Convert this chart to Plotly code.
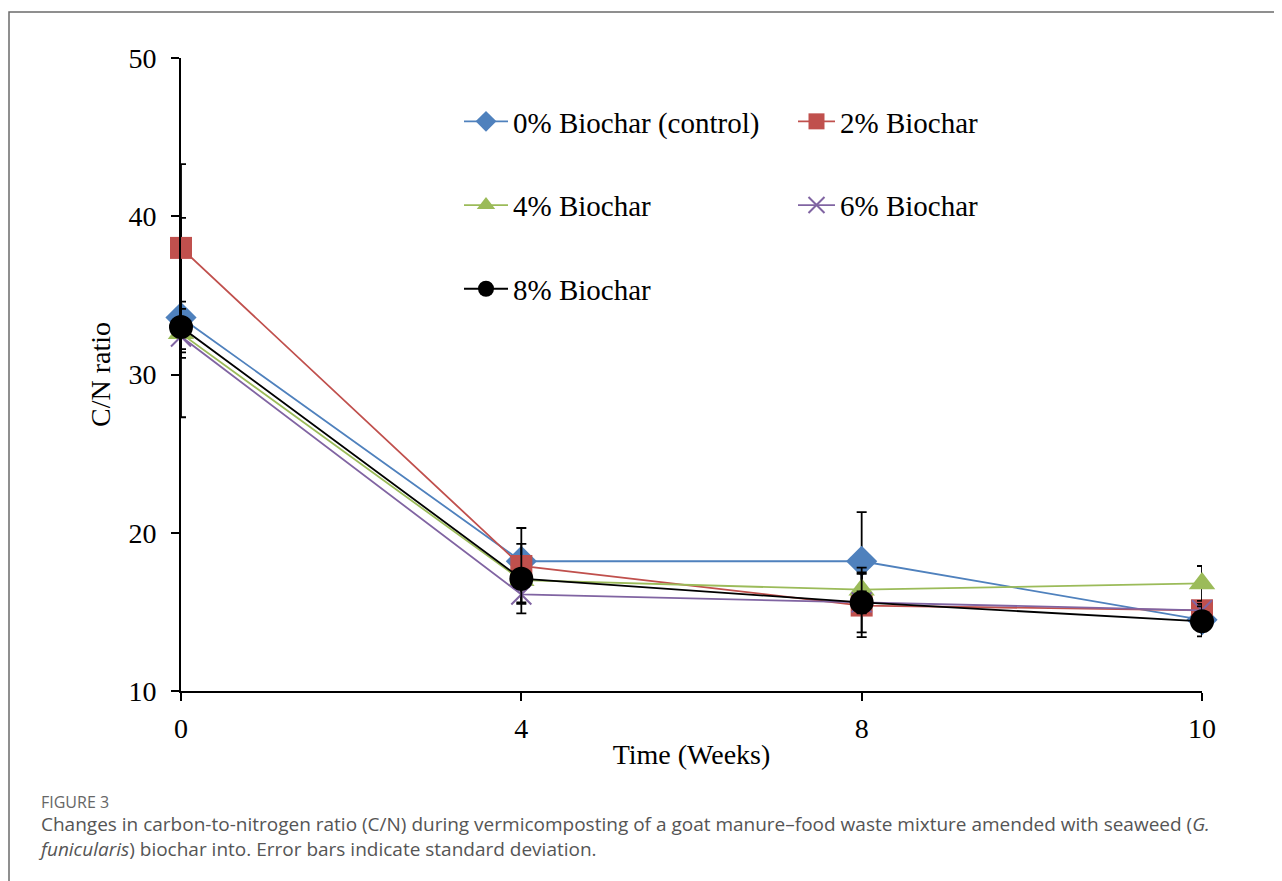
import plotly.graph_objects as go

weeks = ["0", "4", "8", "10"]
series_names = ["0% Biochar (control)", "2% Biochar", "4% Biochar", "6% Biochar", "8% Biochar"]
cn_0 = [33.6, 18.2, 18.2, 14.5]
cn_2 = [38.0, 17.9, 15.4, 15.1]
cn_4 = [32.6, 17.0, 16.4, 16.8]
cn_6 = [32.4, 16.1, 15.6, 15.1]
cn_8 = [33.0, 17.1, 15.6, 14.4]
sd_0 = [6.3, 0.5, 3.1, 0.4]
sd_2 = [5.3, 2.4, 2.0, 0.5]
sd_4 = [1.55, 0.6, 1.4, 1.1]
sd_6 = [0.8, 0.5, 0.7, 0.4]
sd_8 = [1.6, 2.2, 1.9, 0.95]

values = [cn_0, cn_2, cn_4, cn_6, cn_8]
errors = [sd_0, sd_2, sd_4, sd_6, sd_8]
colors = ["#4F81BD", "#C0504D", "#9BBB59", "#8064A2", "#000000"]
symbols = ["diamond", "square", "triangle-up", "x-thin-open", "circle"]
sizes = [24, 22, 23, 20, 24]
legends = ["legend", "legend2", "legend", "legend2", "legend"]

SERIF = "Liberation Serif"

fig = go.Figure()
for i in range(5):
    marker = dict(symbol=symbols[i], size=sizes[i], color=colors[i])
    if symbols[i] == "x-thin-open":
        marker["line"] = dict(color=colors[i], width=2)
    fig.add_trace(go.Scatter(
        x=weeks, y=values[i], name=series_names[i],
        mode="lines+markers",
        line=dict(color=colors[i], width=1.8),
        marker=marker,
        cliponaxis=False,
        error_y=dict(type="data", array=errors[i], visible=True,
                     color="black", thickness=1.8, width=5),
        legend=legends[i], legendgroup=str(i),
    ))

# page pixel -> paper coordinates (plot area spans 181..1202 x 58..691 on the page)
W = 1202 - 181
H = 691 - 58
def px_x(p):
    return (p - 181) / W
def px_y(p):
    return (691 - p) / H

fig.add_shape(type="rect", xref="paper", yref="paper",
              x0=px_x(9), x1=px_x(1300), y0=px_y(900), y1=px_y(12),
              line=dict(color="#6b6b6b", width=1.5), fillcolor="rgba(0,0,0,0)", layer="below")

fig.add_annotation(xref="paper", yref="paper", x=px_x(39), y=px_y(802),
                   xanchor="left", yanchor="middle", showarrow=False,
                   text="FIGURE 3", font=dict(family="Open Sans", size=16, color="#666666"))
fig.add_annotation(xref="paper", yref="paper", x=px_x(36), y=px_y(836),
                   xanchor="left", yanchor="middle", showarrow=False, align="left",
                   text="Changes in carbon-to-nitrogen ratio (C/N) during vermicomposting of a goat manure\u2013food waste mixture amended with seaweed (<i>G.</i><br><i>funicularis</i>) biochar into. Error bars indicate standard deviation.",
                   font=dict(family="Open Sans", size=19, color="#555555"))

legend_common = dict(orientation="v", bgcolor="rgba(0,0,0,0)", borderwidth=0,
                     font=dict(family=SERIF, size=29, color="black"),
                     tracegroupgap=43, xanchor="left", yanchor="top")

fig.update_layout(
    width=1274, height=873,
    margin=dict(l=173, r=80, t=50, b=190),
    paper_bgcolor="white", plot_bgcolor="white",
    showlegend=True,
    legend=dict(x=px_x(459), y=px_y(96), itemwidth=44, **legend_common),
    legend2=dict(x=px_x(793), y=px_y(96), itemwidth=37, **legend_common),
    xaxis=dict(type="category", range=[0, 3], showgrid=False, zeroline=False,
               showline=True, linecolor="black", linewidth=2,
               ticks="outside", ticklen=8, tickwidth=2, tickcolor="black",
               tickfont=dict(family=SERIF, size=28, color="black"),
               ticklabelstandoff=3,
               title=dict(text="Time (Weeks)", font=dict(family=SERIF, size=28, color="black"), standoff=2)),
    yaxis=dict(range=[10, 50], dtick=10, showgrid=False, zeroline=False,
               showline=True, linecolor="black", linewidth=2,
               ticks="outside", ticklen=8, tickwidth=2, tickcolor="black",
               tickfont=dict(family=SERIF, size=28, color="black"),
               ticklabelstandoff=9,
               title=dict(text="C/N ratio", font=dict(family=SERIF, size=28, color="black"), standoff=10)),
)

fig.write_html("out.html")
